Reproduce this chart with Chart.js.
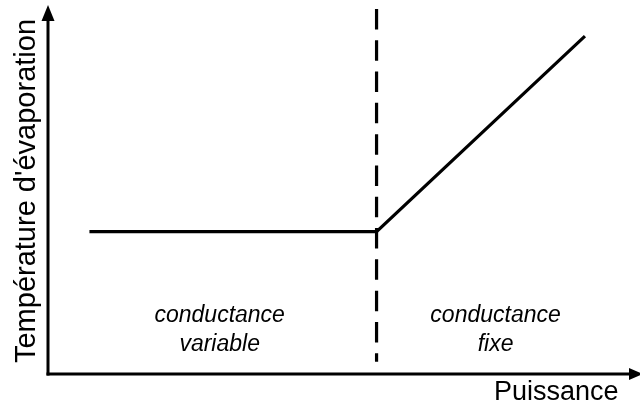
<!DOCTYPE html>
<html>
<head>
<meta charset="utf-8">
<script src="https://cdn.jsdelivr.net/npm/chart.js@4"></script>
<style>
  html, body { margin: 0; padding: 0; background: #fff; }
</style>
</head>
<body>
<canvas id="chart" width="640" height="407"></canvas>
<script>
// curve: evaporation temperature vs power (arbitrary units 0-100)
const power = [7, 55.5, 90.7];
const temperature = [38.7, 38.7, 91.8];
// dashed boundary between the two regimes
const boundaryX = [55.5, 55.5];
const boundaryY = [99.2, 3.3];
// region labels
const regionLines = [["conductance", "variable"], ["conductance", "fixe"]];
const regionCenters = [29.0, 75.6];
const xTitle = "Puissance";
const yTitle = "Température d'évaporation";

const ctx = document.getElementById("chart").getContext("2d");

const toPoints = (xs, ys) => xs.map((x, i) => ({ x: x, y: ys[i] }));

// Draws arrowed axes, axis titles and the region labels
const sketchAxes = {
  id: "sketchAxes",
  afterDatasetsDraw(chart) {
    const c = chart.ctx;
    const a = chart.chartArea;
    const xs = chart.scales.x;
    const ys = chart.scales.y;
    const x0 = xs.getPixelForValue(0);
    const y0 = ys.getPixelForValue(0);

    c.save();
    c.strokeStyle = "#000";
    c.fillStyle = "#000";
    c.lineWidth = 3;
    c.lineCap = "butt";

    // y axis
    c.beginPath();
    c.moveTo(x0, y0 + 1.5);
    c.lineTo(x0, a.top + 12);
    c.stroke();
    c.beginPath();
    c.moveTo(x0, a.top - 1);
    c.lineTo(x0 - 6.5, a.top + 15);
    c.lineTo(x0 + 6.5, a.top + 15);
    c.closePath();
    c.fill();

    // x axis
    c.beginPath();
    c.moveTo(x0 - 1.5, y0);
    c.lineTo(a.right - 8, y0);
    c.stroke();
    c.beginPath();
    c.moveTo(a.right + 3, y0);
    c.lineTo(a.right - 11, y0 - 6);
    c.lineTo(a.right - 11, y0 + 6);
    c.closePath();
    c.fill();

    // axis titles
    c.font = "27px 'Liberation Sans', Arial, sans-serif";
    c.textAlign = "left";
    c.textBaseline = "alphabetic";
    c.fillText(xTitle, 494, 400);

    c.save();
    c.translate(35, 191);
    c.rotate(-Math.PI / 2);
    c.font = "29px 'Liberation Sans', Arial, sans-serif";
    c.textAlign = "center";
    c.fillText(yTitle, 0, 0);
    c.restore();

    // region labels
    c.font = "italic 23px 'Liberation Sans', Arial, sans-serif";
    c.textAlign = "center";
    regionLines.forEach((lines, i) => {
      const px = xs.getPixelForValue(regionCenters[i]);
      c.fillText(lines[0], px, 322);
      c.fillText(lines[1], px, 351);
    });
    c.restore();
  },
};

new Chart(ctx, {
  type: "scatter",
  data: {
    datasets: [
      {
        data: toPoints(power, temperature),
        showLine: true,
        borderColor: "#000",
        borderWidth: 3.2,
        pointRadius: 0,
        tension: 0,
      },
      {
        data: toPoints(boundaryX, boundaryY),
        showLine: true,
        borderColor: "#000",
        borderWidth: 3.2,
        borderDash: [20.5, 10.8],
        pointRadius: 0,
      },
    ],
  },
  options: {
    responsive: false,
    animation: false,
    layout: {
      padding: { left: 48, right: 0, top: 6, bottom: 33 },
    },
    scales: {
      x: { type: "linear", min: 0, max: 100, display: false },
      y: { type: "linear", min: 0, max: 100, display: false },
    },
    plugins: {
      legend: { display: false },
      tooltip: { enabled: false },
    },
  },
  plugins: [sketchAxes],
});
</script>
</body>
</html>
